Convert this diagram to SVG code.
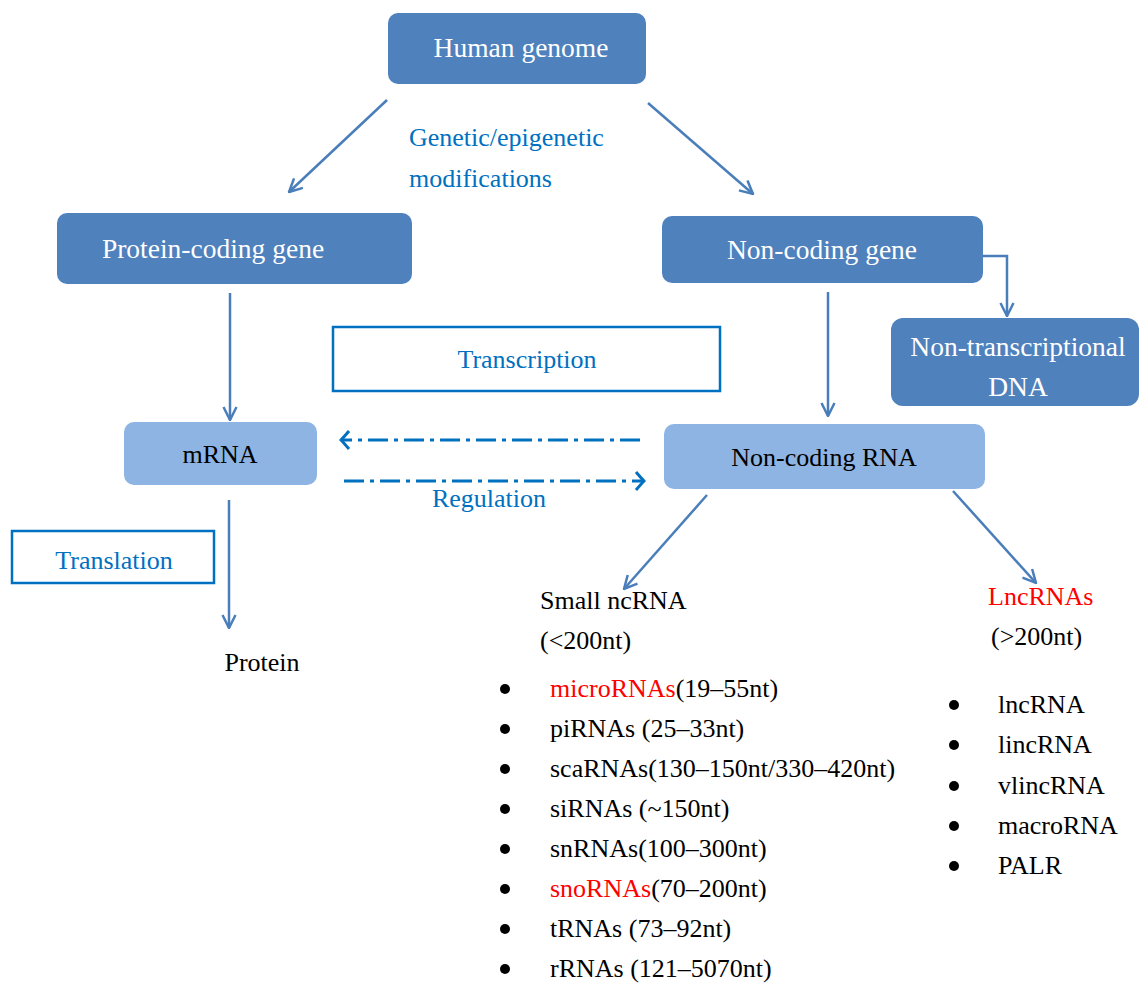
<svg xmlns="http://www.w3.org/2000/svg" width="1139" height="983" viewBox="0 0 1139 983">
<style>
  text { font-family: "Liberation Serif", "DejaVu Serif", serif; }
  .dark { fill: #4f81bd; }
  .light { fill: #8eb4e3; }
  .wt { fill: #ffffff; font-size: 27.5px; text-anchor: middle; }
  .bk { fill: #000000; font-size: 26px; }
  .bl { fill: #0070c0; font-size: 26px; }
  .red { fill: #ff0000; }
  .outline { fill: #ffffff; stroke: #0070c0; stroke-width: 2.5; }
  .conn { fill: none; stroke: #4a7ebb; stroke-width: 2.5; marker-end: url(#arr); }
  .dash { fill: none; stroke: #0070c0; stroke-width: 3; stroke-dasharray: 20 6 4 6; marker-end: url(#chev); }
  .dot { fill: #000000; }
</style>
<defs>
  <marker id="arr" viewBox="0 0 16 16" refX="15" refY="8" markerWidth="16" markerHeight="16" markerUnits="userSpaceOnUse" orient="auto">
    <path d="M2,1.5 L15,8 L2,14.5" fill="none" stroke="#4a7ebb" stroke-width="2.5"/>
  </marker>
  <marker id="chev" viewBox="0 0 12 20" refX="10" refY="10" markerWidth="12" markerHeight="20" markerUnits="userSpaceOnUse" orient="auto">
    <path d="M2,1 Q8,8 10,10 Q8,12 2,19" fill="none" stroke="#0070c0" stroke-width="3"/>
  </marker>
</defs>

<rect width="1139" height="983" fill="#ffffff"/>

<g id="connectors">
  <line class="conn" x1="387" y1="100" x2="289" y2="192"/>
  <line class="conn" x1="648" y1="103" x2="753" y2="194"/>
  <line class="conn" x1="230" y1="293" x2="230" y2="420"/>
  <line class="conn" x1="828" y1="292" x2="828" y2="416"/>
  <path class="conn" d="M983,256 L1007,256 L1007,316"/>
  <line class="conn" x1="229" y1="500" x2="229" y2="628"/>
  <line class="conn" x1="707" y1="495" x2="624" y2="589"/>
  <line class="conn" x1="953" y1="491" x2="1036" y2="583"/>
  <line class="dash" x1="640" y1="440" x2="341" y2="440"/>
  <line class="dash" x1="344" y1="481" x2="644" y2="481"/>
</g>

<g id="human-genome">
  <rect class="dark" x="388" y="13" width="258" height="71" rx="10"/>
  <text class="wt" x="521" y="57">Human genome</text>
</g>

<g id="genetic-label">
  <text class="bl" x="409" y="146">Genetic/epigenetic</text>
  <text class="bl" x="409" y="187">modifications</text>
</g>

<g id="protein-coding-gene">
  <rect class="dark" x="57" y="213" width="355" height="71" rx="10"/>
  <text class="wt" x="213" y="258">Protein-coding gene</text>
</g>

<g id="non-coding-gene">
  <rect class="dark" x="662" y="216" width="321" height="67" rx="10"/>
  <text class="wt" x="822" y="259">Non-coding gene</text>
</g>

<g id="non-transcriptional-dna">
  <rect class="dark" x="891" y="318" width="248" height="88" rx="12"/>
  <text class="wt" x="1018" y="356">Non-transcriptional</text>
  <text class="wt" x="1018" y="396">DNA</text>
</g>

<g id="transcription">
  <rect class="outline" x="333" y="327" width="387" height="64"/>
  <text class="bl" x="527" y="368" text-anchor="middle">Transcription</text>
</g>

<g id="mrna">
  <rect class="light" x="124" y="422" width="193" height="63" rx="10"/>
  <text class="bk" x="220" y="463" text-anchor="middle">mRNA</text>
</g>

<g id="non-coding-rna">
  <rect class="light" x="664" y="424" width="321" height="65" rx="10"/>
  <text class="bk" x="824" y="466" text-anchor="middle">Non-coding RNA</text>
</g>

<g id="regulation">
  <text class="bl" x="489" y="507" text-anchor="middle">Regulation</text>
</g>

<g id="translation">
  <rect class="outline" x="12" y="531" width="202" height="52"/>
  <text class="bl" x="114" y="569" text-anchor="middle">Translation</text>
</g>

<g id="protein">
  <text class="bk" x="262" y="671" text-anchor="middle">Protein</text>
</g>

<g id="small-ncrna">
  <text class="bk" x="540" y="609">Small ncRNA</text>
  <text class="bk" x="540" y="649">(&lt;200nt)</text>
  <circle class="dot" cx="505" cy="689" r="5"/>
  <text class="bk" x="550" y="697"><tspan class="red">microRNAs</tspan>(19–55nt)</text>
  <circle class="dot" cx="505" cy="729" r="5"/>
  <text class="bk" x="550" y="737">piRNAs (25–33nt)</text>
  <circle class="dot" cx="505" cy="769" r="5"/>
  <text class="bk" x="550" y="777">scaRNAs(130–150nt/330–420nt)</text>
  <circle class="dot" cx="505" cy="809" r="5"/>
  <text class="bk" x="550" y="817">siRNAs (~150nt)</text>
  <circle class="dot" cx="505" cy="849" r="5"/>
  <text class="bk" x="550" y="857">snRNAs(100–300nt)</text>
  <circle class="dot" cx="505" cy="889" r="5"/>
  <text class="bk" x="550" y="897"><tspan class="red">snoRNAs</tspan>(70–200nt)</text>
  <circle class="dot" cx="505" cy="929" r="5"/>
  <text class="bk" x="550" y="937">tRNAs (73–92nt)</text>
  <circle class="dot" cx="505" cy="969" r="5"/>
  <text class="bk" x="550" y="977">rRNAs (121–5070nt)</text>
</g>

<g id="lncrnas">
  <text class="bk red" x="988" y="605">LncRNAs</text>
  <text class="bk" x="991" y="645">(&gt;200nt)</text>
  <circle class="dot" cx="954" cy="705" r="5"/>
  <text class="bk" x="998" y="713">lncRNA</text>
  <circle class="dot" cx="954" cy="745" r="5"/>
  <text class="bk" x="998" y="753">lincRNA</text>
  <circle class="dot" cx="954" cy="786" r="5"/>
  <text class="bk" x="998" y="794">vlincRNA</text>
  <circle class="dot" cx="954" cy="826" r="5"/>
  <text class="bk" x="998" y="834">macroRNA</text>
  <circle class="dot" cx="954" cy="866" r="5"/>
  <text class="bk" x="998" y="874">PALR</text>
</g>
</svg>
